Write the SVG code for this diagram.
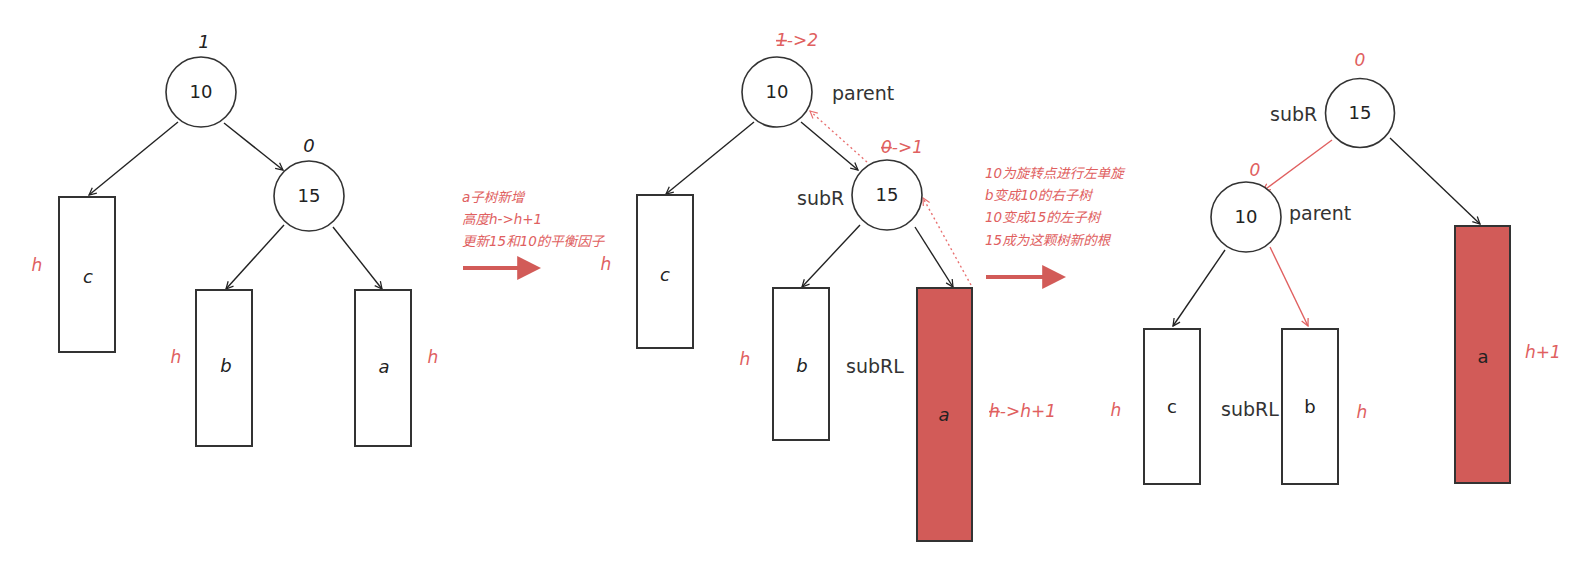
<svg xmlns="http://www.w3.org/2000/svg" width="1587" height="577" viewBox="0 0 1587 577">
<style>
.n{fill:#fff;stroke:#333;stroke-width:1.6}
.bx{fill:#fff;stroke:#333;stroke-width:2}
.rb{fill:#d25b58;stroke:#333;stroke-width:2}
.t{font-family:"DejaVu Sans",sans-serif;font-size:18px;fill:#222}
.it{font-style:italic}
.lb{font-family:"DejaVu Sans",sans-serif;font-size:19px;fill:#333}
.r{font-family:"DejaVu Sans",sans-serif;font-style:italic;font-size:17px;fill:#e06060}
.cn{font-family:"DejaVu Sans","Noto Sans CJK SC",sans-serif;font-style:italic;font-size:13.5px;fill:#e06060}
.e{fill:none;stroke:#222;stroke-width:1.4}
.er{fill:none;stroke:#e06060;stroke-width:1.4}
.ed{fill:none;stroke:#e87070;stroke-width:1.4;stroke-dasharray:2 3}
.big{fill:none;stroke:#d25b58;stroke-width:4}
</style>
<defs>
<marker id="ah" viewBox="0 0 10 10" refX="9" refY="5" markerWidth="9" markerHeight="9" markerUnits="userSpaceOnUse" orient="auto"><path d="M1,1 L9,5 L1,9" fill="none" stroke="#222" stroke-width="1.4"/></marker>
<marker id="ahr" viewBox="0 0 10 10" refX="9" refY="5" markerWidth="9" markerHeight="9" markerUnits="userSpaceOnUse" orient="auto"><path d="M1,1 L9,5 L1,9" fill="none" stroke="#e06060" stroke-width="1.4"/></marker>
<marker id="ahd" viewBox="0 0 10 10" refX="9" refY="5" markerWidth="9" markerHeight="9" markerUnits="userSpaceOnUse" orient="auto"><path d="M1,1 L9,5 L1,9" fill="none" stroke="#e87070" stroke-width="1.3"/></marker>
<marker id="bh" viewBox="0 0 10 10" refX="2" refY="5" markerWidth="6" markerHeight="6" orient="auto"><path d="M0,0 L10,5 L0,10 Z" fill="#d25b58"/></marker>
</defs>
<rect width="1587" height="577" fill="#fff"/>

<g id="connectors">
<!-- panel 1 -->
<line class="e" x1="178" y1="122" x2="89" y2="195" marker-end="url(#ah)"/>
<line class="e" x1="224" y1="123" x2="283" y2="170" marker-end="url(#ah)"/>
<line class="e" x1="284" y1="225" x2="226" y2="289" marker-end="url(#ah)"/>
<line class="e" x1="333" y1="227" x2="382" y2="289" marker-end="url(#ah)"/>
<!-- panel 2 -->
<line class="e" x1="754" y1="122" x2="666" y2="194" marker-end="url(#ah)"/>
<line class="e" x1="801" y1="122" x2="858" y2="170" marker-end="url(#ah)"/>
<line class="e" x1="860" y1="225" x2="802" y2="287" marker-end="url(#ah)"/>
<line class="e" x1="915" y1="227" x2="953" y2="287" marker-end="url(#ah)"/>
<line class="ed" x1="867" y1="162" x2="810" y2="111" marker-end="url(#ahd)"/>
<line class="ed" x1="971" y1="285" x2="923" y2="198" marker-end="url(#ahd)"/>
<!-- panel 3 -->
<line class="er" x1="1332" y1="140" x2="1263" y2="191" marker-end="url(#ahr)"/>
<line class="e" x1="1390" y1="138" x2="1480" y2="224" marker-end="url(#ah)"/>
<line class="e" x1="1225" y1="250" x2="1173" y2="326" marker-end="url(#ah)"/>
<line class="er" x1="1270" y1="247" x2="1308" y2="326" marker-end="url(#ahr)"/>
<!-- big arrows -->
<line class="big" x1="463" y1="268" x2="522" y2="268" marker-end="url(#bh)"/>
<line class="big" x1="986" y1="277" x2="1047" y2="277" marker-end="url(#bh)"/>
</g>

<!-- Panel 1 -->
<g id="p1-n10"><circle class="n" cx="201" cy="92" r="35"/><text class="t" x="201" y="98" text-anchor="middle">10</text><text class="t it" x="204" y="48" text-anchor="middle">1</text></g>
<g id="p1-n15"><circle class="n" cx="309" cy="196" r="35"/><text class="t" x="309" y="202" text-anchor="middle">15</text><text class="t it" x="309" y="152" text-anchor="middle">0</text></g>
<g id="p1-c"><rect class="bx" x="59" y="197" width="56" height="155"/><text class="t it" x="88" y="283" text-anchor="middle">c</text><text class="r" x="37" y="271" text-anchor="middle">h</text></g>
<g id="p1-b"><rect class="bx" x="196" y="290" width="56" height="156"/><text class="t it" x="226" y="372" text-anchor="middle">b</text><text class="r" x="176" y="363" text-anchor="middle">h</text></g>
<g id="p1-a"><rect class="bx" x="355" y="290" width="56" height="156"/><text class="t it" x="384" y="373" text-anchor="middle">a</text><text class="r" x="433" y="363" text-anchor="middle">h</text></g>

<g id="note1">
<text class="cn" x="462" y="202">a子树新增</text>
<text class="cn" x="462" y="224">高度h-&gt;h+1</text>
<text class="cn" x="462" y="246">更新15和10的平衡因子</text>
</g>

<!-- Panel 2 -->
<g id="p2-n10"><circle class="n" cx="777" cy="92" r="35"/><text class="t" x="777" y="98" text-anchor="middle">10</text><text class="lb" x="832" y="100">parent</text><text class="r" x="776" y="46"><tspan text-decoration="line-through">1</tspan>-&gt;2</text></g>
<g id="p2-n15"><circle class="n" cx="887" cy="195" r="35"/><text class="t" x="887" y="201" text-anchor="middle">15</text><text class="lb" x="797" y="205">subR</text><text class="r" x="881" y="153"><tspan text-decoration="line-through">0</tspan>-&gt;1</text></g>
<g id="p2-c"><rect class="bx" x="637" y="195" width="56" height="153"/><text class="t it" x="665" y="281" text-anchor="middle">c</text><text class="r" x="606" y="270" text-anchor="middle">h</text></g>
<g id="p2-b"><rect class="bx" x="773" y="288" width="56" height="152"/><text class="t it" x="802" y="372" text-anchor="middle">b</text><text class="r" x="745" y="365" text-anchor="middle">h</text><text class="lb" x="846" y="373">subRL</text></g>
<g id="p2-a"><rect class="rb" x="917" y="288" width="55" height="253"/><text class="t it" x="944" y="421" text-anchor="middle">a</text><text class="r" x="989" y="417"><tspan text-decoration="line-through">h</tspan>-&gt;h+1</text></g>

<g id="note2">
<text class="cn" x="985" y="178">10为旋转点进行左单旋</text>
<text class="cn" x="985" y="200">b变成10的右子树</text>
<text class="cn" x="985" y="222">10变成15的左子树</text>
<text class="cn" x="985" y="245">15成为这颗树新的根</text>
</g>

<!-- Panel 3 -->
<g id="p3-n15"><circle class="n" cx="1360" cy="113" r="34.5"/><text class="t" x="1360" y="119" text-anchor="middle">15</text><text class="lb" x="1270" y="121">subR</text><text class="r" x="1360" y="66" text-anchor="middle">0</text></g>
<g id="p3-n10"><circle class="n" cx="1246" cy="217" r="35"/><text class="t" x="1246" y="223" text-anchor="middle">10</text><text class="lb" x="1289" y="220">parent</text><text class="r" x="1255" y="176" text-anchor="middle">0</text></g>
<g id="p3-c"><rect class="bx" x="1144" y="329" width="56" height="155"/><text class="t" x="1172" y="413" text-anchor="middle">c</text><text class="r" x="1116" y="416" text-anchor="middle">h</text></g>
<g id="p3-subrl"><text class="lb" x="1221" y="416">subRL</text></g>
<g id="p3-b"><rect class="bx" x="1282" y="329" width="56" height="155"/><text class="t" x="1310" y="413" text-anchor="middle">b</text><text class="r" x="1362" y="418" text-anchor="middle">h</text></g>
<g id="p3-a"><rect class="rb" x="1455" y="226" width="55" height="257"/><text class="t" x="1483" y="363" text-anchor="middle">a</text><text class="r" x="1525" y="358">h+1</text></g>
</svg>
